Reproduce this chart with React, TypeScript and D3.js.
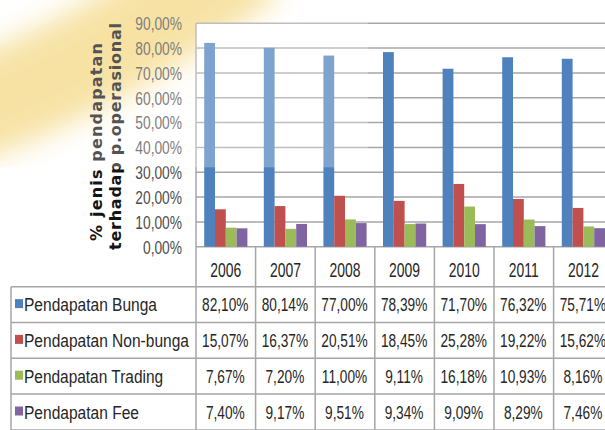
import React from 'react';
import * as d3 from 'd3';

const years = ['2006', '2007', '2008', '2009', '2010', '2011', '2012'];
const seriesNames = ['Pendapatan Bunga', 'Pendapatan Non-bunga', 'Pendapatan Trading', 'Pendapatan Fee'];
const bunga = [82.10, 80.14, 77.00, 78.39, 71.70, 76.32, 75.71];
const nonBunga = [15.07, 16.37, 20.51, 18.45, 25.28, 19.22, 15.62];
const trading = [7.67, 7.20, 11.00, 9.11, 16.18, 10.93, 8.16];
const fee = [7.40, 9.17, 9.51, 9.34, 9.09, 8.29, 7.46];
const yTicks = [0, 10, 20, 30, 40, 50, 60, 70, 80, 90];
const titleLines = ['% jenis pendapatan', 'terhadap p.operasional'];

const seriesValues = [bunga, nonBunga, trading, fee];
const colors = ['#4F81BD', '#C0504D', '#9BBB59', '#8064A2'];
const labelWidths = [133, 165, 140, 115];

const W = 605, H = 430;
const plotLeft = 196, plotTop = 23.3, plotBottom = 246.7;
const step = 59.6;
const rowTop = 286.7, rowH = 35.8, tableLeft = 11;
const gridColor = '#A6A6A6';
const font = "'Liberation Sans', Arial, sans-serif";

const fmt = (v: number) => v.toFixed(2).replace('.', ',') + '%';
const cw: Record<string, number> = {
  ',': 0.278, '%': 0.889, ' ': 0.278, '-': 0.333, P: 0.667, B: 0.667, N: 0.722, T: 0.611, F: 0.611,
  t: 0.278, r: 0.333, i: 0.222,
};
const natW = (s: string, fs: number) => s.split('').reduce((a, c) => a + (cw[c] ?? 0.556), 0) * fs;

export default function App() {
  const x = d3.scaleBand<string>().domain(years).range([plotLeft, plotLeft + step * years.length]).paddingInner(0).paddingOuter(0);
  const xs = d3.scaleBand<string>().domain(seriesNames).range([0, x.bandwidth()]).paddingInner(0).paddingOuter(0.76);
  const y = d3.scaleLinear().domain([0, 90]).range([plotBottom, plotTop]);
  const rows = d3.range(seriesNames.length + 2).map(i => rowTop + i * rowH);

  return (
    <svg width={W} height={H} style={{ position: 'absolute', left: 0, top: 0, background: '#fff' }} fontFamily={font}>
      <defs>
        <filter id="blur" x="-50%" y="-50%" width="200%" height="200%">
          <feGaussianBlur stdDeviation="14" />
        </filter>
        <clipPath id="ov">
          <rect x={0} y={0} width={368} height={167.3} />
        </clipPath>
      </defs>
      <rect x={0} y={0} width={W} height={H} fill="#fff" />
      <g clipPath="url(#ov)">
        <path d="M -70,125 Q 90,75 250,-45" fill="none" stroke="#F3D26E" strokeWidth={100} opacity={0.85} filter="url(#blur)" />
      </g>
      <rect x={plotLeft} y={plotTop} width={W - plotLeft} height={plotBottom - plotTop} fill="#fff" />

      {yTicks.map(t => (
        <line key={'g' + t} x1={plotLeft} x2={W} y1={y(t)} y2={y(t)} stroke={gridColor} strokeWidth={1.5} />
      ))}

      {seriesValues.map((vals, si) =>
        vals.map((v, i) => (
          <rect key={si + '-' + i} x={(x(years[i]) as number) + (xs(seriesNames[si]) as number)} y={y(v)}
            width={xs.bandwidth()} height={y(0) - y(v)} fill={colors[si]} />
        ))
      )}

      <line x1={plotLeft} x2={plotLeft} y1={plotTop} y2={H} stroke={gridColor} strokeWidth={1.5} />
      {years.map(yr => (
        <line key={'c' + yr} x1={(x(yr) as number) + step} x2={(x(yr) as number) + step} y1={plotBottom} y2={H} stroke={gridColor} strokeWidth={1.5} />
      ))}
      {rows.map((ry, i) => (
        <line key={'r' + i} x1={tableLeft} x2={W} y1={ry} y2={ry} stroke={gridColor} strokeWidth={1.5} />
      ))}
      <line x1={tableLeft} x2={tableLeft} y1={rowTop} y2={H} stroke={gridColor} strokeWidth={1.5} />

      {yTicks.map(t => (
        <text key={'t' + t} transform={`translate(182,${y(t) + 6.8}) scale(0.725,1)`} textAnchor="end" fontSize={19} fill="#4d4d4d">{fmt(t)}</text>
      ))}

      {titleLines.map((s, i) => (
        <text key={'ti' + i} transform={`translate(${i === 0 ? 101.5 : 120.5},${i === 0 ? 142 : 136.5}) rotate(-90)`}
          textAnchor="middle" fontSize={16} fontWeight="bold" fill="#141414" fontFamily="'DejaVu Sans', sans-serif"
          textLength={i === 0 ? 198 : 227} lengthAdjust="spacing">{s}</text>
      ))}

      {years.map(yr => (
        <text key={'y' + yr} transform={`translate(${(x(yr) as number) + step / 2},276.5) scale(0.68,1)`} textAnchor="middle" fontSize={20.5} fill="#262626">{yr}</text>
      ))}

      {seriesNames.map((name, si) => {
        const cy = rowTop + si * rowH + rowH / 2;
        const sx = labelWidths[si] / natW(name, 18.5);
        return (
          <g key={'row' + si}>
            <rect x={15} y={cy - 5.5} width={8} height={9} fill={colors[si]} />
            <text transform={`translate(24,${cy + 6.6}) scale(${sx},1)`} fontSize={18.5} fill="#262626">{name}</text>
            {seriesValues[si].map((v, i) => (
              <text key={'v' + i} transform={`translate(${(x(years[i]) as number) + step / 2 - 0.5},${cy + 6.6}) scale(0.74,1)`} textAnchor="middle" fontSize={18.5} fill="#262626">{fmt(v)}</text>
            ))}
          </g>
        );
      })}

      <rect x={0} y={0} width={368} height={167.3} fill="#fff" opacity={0.27} />
    </svg>
  );
}
